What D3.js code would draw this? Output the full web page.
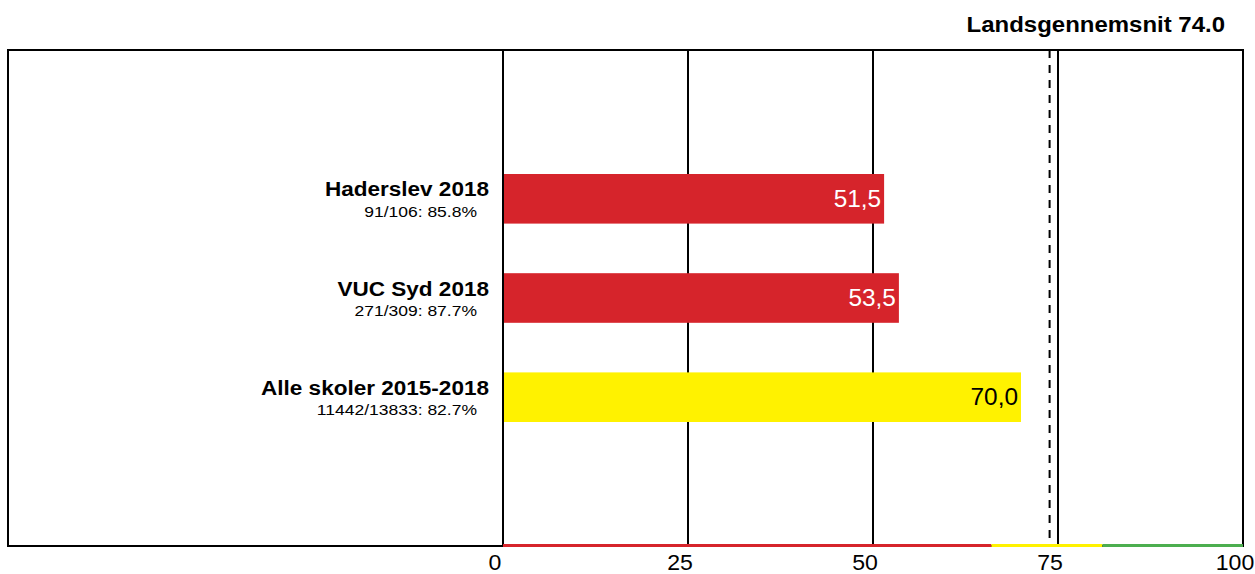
<!DOCTYPE html>
<html>
<head>
<meta charset="utf-8">
<script src="https://cdn.jsdelivr.net/npm/d3@7"></script>
<style>
  body { margin: 0; background: #fff; }
  text { font-family: "Liberation Sans", Arial, sans-serif; }
</style>
</head>
<body>
<script>
var categories = ["Haderslev 2018", "VUC Syd 2018", "Alle skoler 2015-2018"];
var subLabels = ["91/106: 85.8%", "271/309: 87.7%", "11442/13833: 82.7%"];
var values = [51.5, 53.5, 70.0];
var average = 74.0;
var tickValues = [0, 25, 50, 75, 100];
var gridValues = [0, 25, 50, 75];
var bandLimits = [0, 66, 81, 100];
var bandColors = ["#d6242b", "#fff200", "#4cae4f"];

var width = 1255, height = 574;
var box = {left: 8, top: 50, right: 1243, bottom: 546};

var svg = d3.select("body").append("svg").attr("width", width).attr("height", height);

var x = d3.scaleLinear().domain([0, 100]).range([503, box.right]);
var y = d3.scaleBand().domain(categories).range([box.top, box.bottom])
          .paddingInner(0.5).paddingOuter(1.25);

var colorFor = d3.scaleThreshold().domain(bandLimits.slice(1, 3)).range(bandColors);
var comma = d3.formatLocale({decimal: ",", thousands: ".", grouping: [3], currency: ["", ""]}).format(".1f");

// the source font runs a bit wider than Arial, so stretch text sideways
function place(px, py, sx) {
  return "translate(" + px + "," + py + ") scale(" + sx + ",1)";
}

// frame
svg.append("rect")
  .attr("x", box.left).attr("y", box.top)
  .attr("width", box.right - box.left).attr("height", box.bottom - box.top)
  .attr("fill", "none").attr("stroke", "#000").attr("stroke-width", 2);

// grid
svg.selectAll("line.grid")
  .data(gridValues)
  .enter().append("line")
  .attr("class", "grid")
  .attr("x1", function(d){ return x(d); }).attr("x2", function(d){ return x(d); })
  .attr("y1", box.top).attr("y2", box.bottom)
  .attr("stroke", "#000").attr("stroke-width", 2);

// average line
svg.append("line")
  .attr("x1", x(average) - 1).attr("x2", x(average) - 1)
  .attr("y1", box.top).attr("y2", box.bottom)
  .attr("stroke", "#000").attr("stroke-width", 2)
  .attr("stroke-dasharray", "8,7");

// colour band on the axis
var bands = bandColors.map(function(c, i){ return {from: bandLimits[i], to: bandLimits[i + 1], color: c}; });
svg.selectAll("rect.band")
  .data(bands)
  .enter().append("rect")
  .attr("class", "band")
  .attr("x", function(d){ return x(d.from); })
  .attr("y", box.bottom - 2)
  .attr("width", function(d){ return x(d.to) - x(d.from); })
  .attr("height", 3)
  .attr("fill", function(d){ return d.color; });

// bars
var rows = categories.map(function(c, i){ return {cat: c, sub: subLabels[i], v: values[i]}; });

svg.selectAll("rect.bar")
  .data(rows)
  .enter().append("rect")
  .attr("class", "bar")
  .attr("x", x(0) + 1)
  .attr("y", function(d){ return y(d.cat); })
  .attr("width", function(d){ return x(d.v) - x(0) - 1; })
  .attr("height", y.bandwidth())
  .attr("fill", function(d){ return colorFor(d.v); });

svg.selectAll("text.val")
  .data(rows)
  .enter().append("text")
  .attr("class", "val")
  .attr("transform", function(d){ return place(x(d.v) - 3, y(d.cat) + y.bandwidth() / 2 + 8, 1.06); })
  .attr("text-anchor", "end")
  .attr("font-size", 23)
  .attr("fill", function(d){ return colorFor(d.v) === bandColors[0] ? "#fff" : "#000"; })
  .text(function(d){ return comma(d.v); });

svg.selectAll("text.cat")
  .data(rows)
  .enter().append("text")
  .attr("class", "cat")
  .attr("transform", function(d){ return place(489, y(d.cat) + y.bandwidth() / 2 - 2.5, 1.1); })
  .attr("text-anchor", "end")
  .attr("font-size", 20.5)
  .attr("font-weight", "bold")
  .text(function(d){ return d.cat; });

svg.selectAll("text.sub")
  .data(rows)
  .enter().append("text")
  .attr("class", "sub")
  .attr("transform", function(d){ return place(477, y(d.cat) + y.bandwidth() / 2 + 18, 1.13); })
  .attr("text-anchor", "end")
  .attr("font-size", 15.5)
  .text(function(d){ return d.sub; });

// tick labels
svg.selectAll("text.tick")
  .data(tickValues)
  .enter().append("text")
  .attr("class", "tick")
  .attr("transform", function(d){ return place(x(d) - 8, 570, 1.05); })
  .attr("text-anchor", "middle")
  .attr("font-size", 22)
  .text(function(d){ return d; });

// title
svg.append("text")
  .attr("transform", place(1225, 32, 1.09))
  .attr("text-anchor", "end")
  .attr("font-size", 22)
  .attr("font-weight", "bold")
  .text("Landsgennemsnit " + d3.format(".1f")(average));
</script>
</body>
</html>
